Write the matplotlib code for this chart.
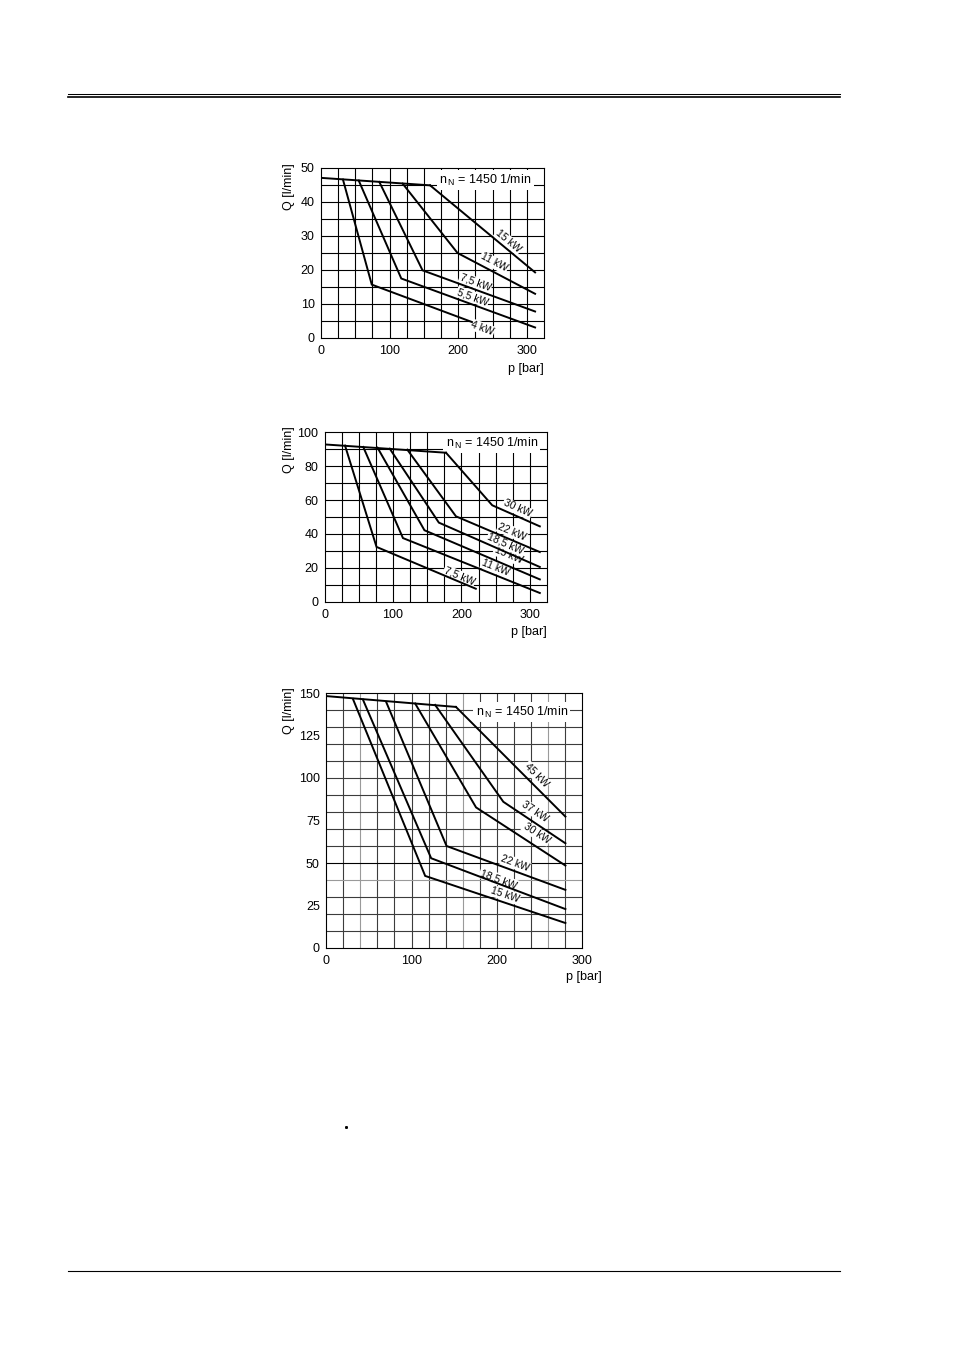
import math
import matplotlib
matplotlib.use("Agg")
import matplotlib.pyplot as plt
from matplotlib.lines import Line2D

plt.rcParams['font.family'] = ['Liberation Sans', 'DejaVu Sans']
plt.rcParams['mathtext.fontset'] = 'custom'
plt.rcParams['mathtext.rm'] = 'Liberation Sans'
plt.rcParams['mathtext.it'] = 'Liberation Sans:italic'

W, H = 954, 1350
NN_TEXT = r"n$_{\,\mathrm{N}}$ = 1450 1/min"
XLABEL = "p [bar]"
YLABEL = "Q [l/min]"

# ---------------- Chart 1 ----------------
c1_top_p = [0, 159]
c1_top_q = [47.1, 44.9]
c1_labels = ["4 kW", "5,5 kW", "7,5 kW", "11 kW", "15 kW"]
c1_p = [[32, 74, 220], [55, 117, 312], [85, 148, 312], [119, 199, 312], [159, 312]]
c1_q = [[46.6, 15.7, 4.7], [46.3, 17.5, 3.1], [45.9, 19.9, 7.8], [45.4, 25.0, 13.0], [44.9, 19.3]]
c1_label_p = [235, 221, 225, 252, 273]
c1_label_q = [2.9, 12.1, 16.3, 22.2, 28.4]
c1_xticks = [0, 100, 200, 300]
c1_yticks = [0, 10, 20, 30, 40, 50]

# ---------------- Chart 2 ----------------
c2_top_p = [0, 177.5]
c2_top_q = [92.7, 87.8]
c2_labels = ["7,5 kW", "11 kW", "15 kW", "18,5 kW", "22 kW", "30 kW"]
c2_p = [[30, 76, 221], [56.6, 114.6, 314.5], [77.4, 146, 314.5],
        [95.3, 167, 314.5], [121, 192, 314.5], [177.5, 245, 314.5]]
c2_q = [[92.0, 32.4, 7.8], [91.2, 37.6, 5.3], [90.8, 42.2, 13.3],
        [90.2, 46.7, 20.6], [89.6, 50.4, 29.4], [87.8, 56.9, 44.5]]
c2_label_p = [197, 250, 268.5, 264.6, 274.3, 281.6]
c2_label_q = [15.1, 20.0, 27.5, 34.3, 41.2, 54.9]
c2_xticks = [0, 100, 200, 300]
c2_yticks = [0, 20, 40, 60, 80, 100]

# ---------------- Chart 3 ----------------
c3_top_p = [0, 152]
c3_top_q = [148.2, 141.8]
c3_labels = ["15 kW", "18,5 kW", "22 kW", "30 kW", "37 kW", "45 kW"]
c3_p = [[31.5, 116, 280], [43.2, 123, 280], [70.4, 141, 280],
        [104.3, 175.5, 280], [127.6, 207.4, 280], [152, 280]]
c3_q = [[146.5, 42.4, 14.7], [146.1, 52.8, 22.9], [144.7, 60.0, 34.2],
        [143.8, 82.7, 48.5], [143.0, 86.0, 61.6], [141.8, 77.3]]
c3_label_p = [209.3, 201.6, 221, 246.3, 244.4, 246.3]
c3_label_q = [31.3, 40.5, 49.9, 67.5, 80.2, 101.7]
c3_xticks = [0, 100, 200, 300]
c3_yticks = [0, 25, 50, 75, 100, 125, 150]

fig = plt.figure(figsize=(W / 100, H / 100), dpi=100)


def fx(px):
    return px / W


def fy(py):
    return 1 - py / H


def make_axes(x0, y0, x1, y1):
    return fig.add_axes([fx(x0), fy(y1), fx(x1) - fx(x0), (y1 - y0) / H])


def draw_chart(ax, xlim, ylim, xgrid, ygrid, xticks, yticks, top_p, top_q,
               curves_p, curves_q, labels, lab_p, lab_q, nn_xy,
               ylab_px, xlab_px, grid_color='black', light_x=(), light_y=(),
               dark_y=()):
    ax.set_xlim(*xlim)
    ax.set_ylim(*ylim)
    for g in xgrid:
        c = '#9a9a9a' if g in light_x else grid_color
        ax.axvline(g, color=c, lw=0.8, zorder=1)
    for g in ygrid:
        if g in dark_y:
            c = 'black'
        elif g in light_y:
            c = '#9a9a9a'
        else:
            c = grid_color
        ax.axhline(g, color=c, lw=0.8, zorder=1)
    for s in ax.spines.values():
        s.set_color('black')
        s.set_linewidth(0.8)
    ax.set_xticks(xticks)
    ax.set_yticks(yticks)
    ax.tick_params(length=0, labelsize=9, pad=4.5)
    ax.tick_params(axis='x', pad=5)
    ax.plot(top_p, top_q, color='black', lw=1.4, zorder=3,
            solid_joinstyle='miter')
    for p, q, lab, lp, lq in zip(curves_p, curves_q, labels, lab_p, lab_q):
        ax.plot(p, q, color='black', lw=1.4, zorder=3, solid_joinstyle='miter')
        a = ax.transData.transform((p[-2], q[-2]))
        b = ax.transData.transform((p[-1], q[-1]))
        ang = math.degrees(math.atan2(b[1] - a[1], b[0] - a[0]))
        ax.text(lp, lq, lab, rotation=ang, rotation_mode='anchor',
                ha='center', va='center', fontsize=7.5, zorder=2,
                bbox=dict(boxstyle='square,pad=0.08', fc='white', ec='none'))
    ax.text(nn_xy[0], nn_xy[1], NN_TEXT, ha='left', va='center', fontsize=9,
            zorder=2,
            bbox=dict(boxstyle='square,pad=0.2', fc='white', ec='none'))
    fig.text(fx(ylab_px[0]), fy(ylab_px[1]), YLABEL, rotation=90,
             ha='center', va='center', fontsize=9)
    fig.text(fx(xlab_px[0]), fy(xlab_px[1]), XLABEL, ha='right',
             va='center', fontsize=9)


ax1 = make_axes(321, 168, 544, 338)
draw_chart(ax1, (0, 325), (0, 50), range(25, 325, 25), range(5, 50, 5),
           c1_xticks, c1_yticks, c1_top_p, c1_top_q, c1_p, c1_q, c1_labels,
           c1_label_p, c1_label_q, (172, 46.4), (289, 187), (544, 369))

ax2 = make_axes(324.5, 432, 547, 602)
draw_chart(ax2, (0, 325), (0, 100), range(25, 325, 25), range(10, 100, 10),
           c2_xticks, c2_yticks, c2_top_p, c2_top_q, c2_p, c2_q, c2_labels,
           c2_label_p, c2_label_q, (177, 93.4), (289, 450), (547, 632))

ax3 = make_axes(326, 693, 582.5, 948)
draw_chart(ax3, (0, 300), (0, 150), range(20, 300, 20), range(10, 150, 10),
           c3_xticks, c3_yticks, c3_top_p, c3_top_q, c3_p, c3_q, c3_labels,
           c3_label_p, c3_label_q, (175, 138.7), (289, 711), (602, 977),
           grid_color='#3c3c3c', light_x=(40, 160, 260), light_y=(40,),
           dark_y=(50,))

# page rules
fig.add_artist(Line2D([fx(68), fx(840)], [fy(94.3), fy(94.3)], color='black', lw=0.75))
fig.add_artist(Line2D([fx(68), fx(840)], [fy(97.2), fy(97.2)], color='black', lw=1.2))
fig.add_artist(Line2D([fx(68), fx(840)], [fy(1271.3), fy(1271.3)], color='black', lw=0.8))
fig.add_artist(Line2D([fx(346)], [fy(1126.5)], marker='s', markersize=1.1,
                      color='black', lw=0))

fig.savefig("out.png", dpi=100)
